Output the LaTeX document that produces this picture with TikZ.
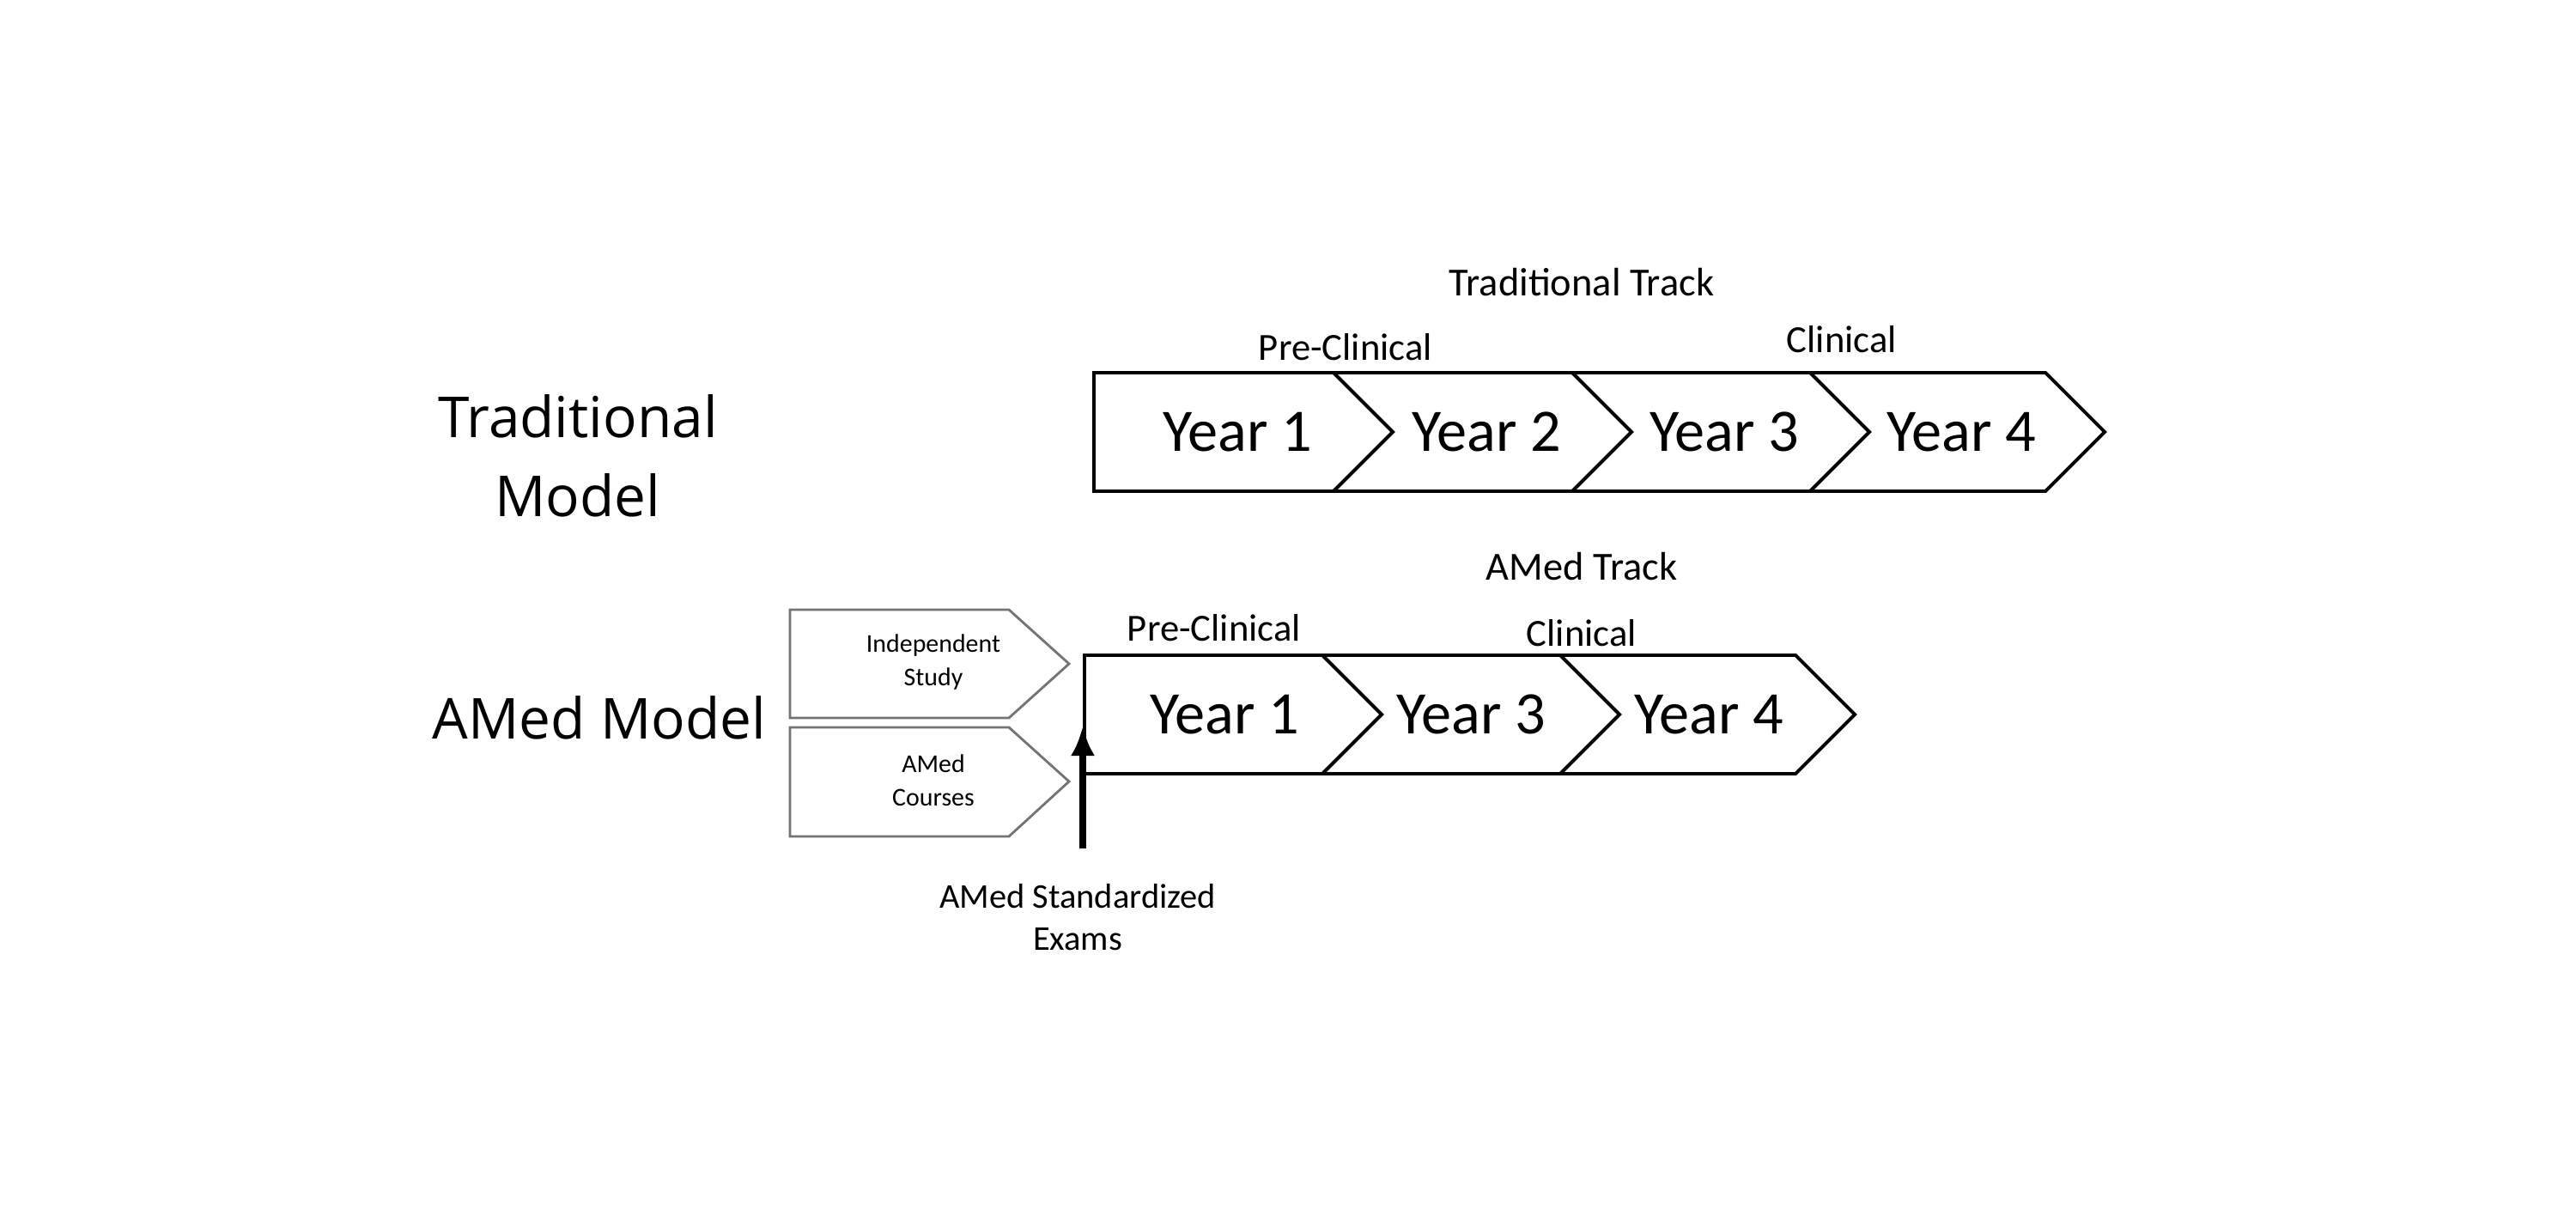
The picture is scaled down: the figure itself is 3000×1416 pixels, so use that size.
\documentclass[tikz,border=0pt]{standalone}
\usepackage{fontspec}
\setmainfont{Carlito}
\newfontfamily\modelfont{Open Sans}
\usetikzlibrary{arrows.meta}
\tikzset{
  chev/.style={draw=black, fill=white, line width=1.1pt, line join=miter},
  smallchev/.style={draw=black!55, fill=white, line width=0.8pt, line join=miter},
  yeartxt/.style={font=\fontsize{20}{24}\selectfont, inner sep=0pt},
  lbl/.style={font=\fontsize{12.7}{15}\selectfont, inner sep=0pt},
  tracklbl/.style={font=\fontsize{13.2}{15}\selectfont, inner sep=0pt},
  smalltxt/.style={font=\fontsize{8.5}{11}\selectfont, align=center, inner sep=0pt},
  modeltxt/.style={font=\modelfont\fontsize{18.7}{26}\selectfont, align=center, inner sep=0pt},
  examtxt/.style={font=\fontsize{11.5}{14}\selectfont, align=center, inner sep=0pt},
  examarrow/.style={line width=2.4pt, -{Latex[length=10pt,width=8pt]}}
}
\begin{document}
\begin{tikzpicture}[x=0.01cm,y=-0.01cm]
\useasboundingbox (0,0) rectangle (3000,1416);
\fill[white] (0,0) rectangle (3000,1416);

% ---------- Traditional model ----------
\def\T{434}\def\B{572}\def\M{503}\def\d{69}
\draw[chev] (1274,\T) -- (1553,\T) -- (1553+\d,\M) -- (1553,\B) -- (1274,\B) -- cycle;
\draw[chev] (1553,\T) -- (1831,\T) -- (1831+\d,\M) -- (1831,\B) -- (1553,\B) -- (1553+\d,\M) -- cycle;
\draw[chev] (1831,\T) -- (2108,\T) -- (2108+\d,\M) -- (2108,\B) -- (1831,\B) -- (1831+\d,\M) -- cycle;
\draw[chev] (2108,\T) -- (2382,\T) -- (2382+\d,\M) -- (2382,\B) -- (2108,\B) -- (2108+\d,\M) -- cycle;
\node[yeartxt] (ty1) at (1441,\M) {Year 1};
\node[yeartxt] (ty2) at (1731,\M) {Year 2};
\node[yeartxt] (ty3) at (2008,\M) {Year 3};
\node[yeartxt] (ty4) at (2284,\M) {Year 4};

\node[tracklbl] (ttrack) at (1842,329) {Traditional Track};
\node[lbl] (tpre) at (1567,404) {Pre-Clinical};
\node[lbl] (tclin) at (2145,395) {Clinical};

\node[modeltxt] (tmodel) at (673,531) {Traditional\\Model};

% ---------- AMed model ----------
\def\Tb{763}\def\Bb{901}\def\Mb{832}
\draw[chev] (1263,\Tb) -- (1540,\Tb) -- (1540+\d,\Mb) -- (1540,\Bb) -- (1263,\Bb) -- cycle;
\draw[chev] (1540,\Tb) -- (1817,\Tb) -- (1817+\d,\Mb) -- (1817,\Bb) -- (1540,\Bb) -- (1540+\d,\Mb) -- cycle;
\draw[chev] (1817,\Tb) -- (2091,\Tb) -- (2091+\d,\Mb) -- (2091,\Bb) -- (1817,\Bb) -- (1817+\d,\Mb) -- cycle;
\node[yeartxt] (ay1) at (1426,\Mb) {Year 1};
\node[yeartxt] (ay3) at (1713,\Mb) {Year 3};
\node[yeartxt] (ay4) at (1990,\Mb) {Year 4};

\node[tracklbl] (atrack) at (1842,660) {AMed Track};
\node[lbl] (apre) at (1414,731) {Pre-Clinical};
\node[lbl] (aclin) at (1842,737) {Clinical};

\node[modeltxt] (amodel) at (698,836) {AMed Model};

% small chevrons
\draw[smallchev] (920,710) -- (1175,710) -- (1245,773) -- (1175,836) -- (920,836) -- cycle;
\draw[smallchev] (920,847) -- (1175,847) -- (1245,910) -- (1175,974) -- (920,974) -- cycle;
\node[smalltxt] (indep) at (1087,771) {Independent\\Study};
\node[smalltxt] (courses) at (1087,909) {AMed\\Courses};

% exams arrow
\coordinate (exambase) at (1261,988);
\coordinate (examtip) at (1261,845);
\draw[examarrow] (exambase) -- (examtip);
\node[examtxt] (exams) at (1255,1068) {AMed Standardized\\Exams};
\end{tikzpicture}
\end{document}
